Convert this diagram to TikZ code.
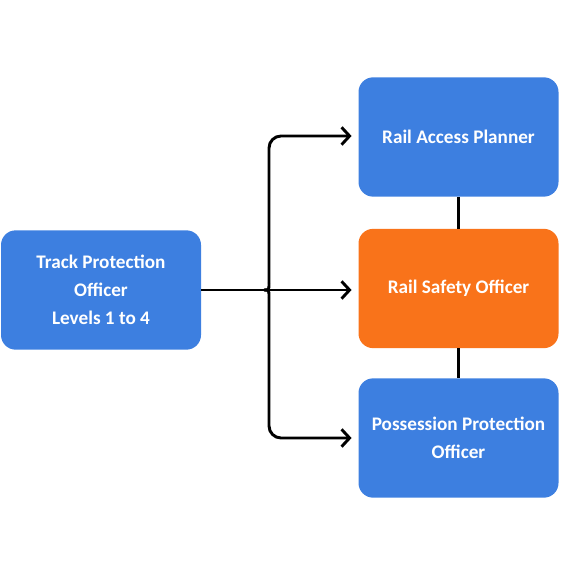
\documentclass[tikz,border=0pt]{standalone}
\usepackage{fontspec}
\setmainfont{Carlito}
\usetikzlibrary{arrows.meta}
\definecolor{boxblue}{RGB}{61,127,224}
\definecolor{boxorange}{RGB}{249,115,26}
\begin{document}
\begin{tikzpicture}[x=0.75pt,y=-0.75pt,
  rolebox/.style={rectangle,rounded corners=11pt,minimum width=150pt,minimum height=89.5pt,
    text=white,font=\bfseries\fontsize{14.4}{21}\selectfont,align=center,inner sep=0pt},
  conn/.style={line width=2.2pt,black},
  arr/.style={conn,-{Straight Barb[length=6pt,width=13pt,line width=2.2pt]}}]
\useasboundingbox (0,0) rectangle (560,580);
\node[rolebox,fill=boxblue] (tpo) at (101,290) {Track Protection\\Officer\\Levels 1 to 4};
\node[rolebox,fill=boxblue] (rap) at (458.5,137) {Rail Access Planner};
\node[rolebox,fill=boxorange] (rso) at (458.5,288.5) {Rail Safety Officer};
\node[rolebox,fill=boxblue] (ppo) at (458.5,438) {Possession Protection\\Officer};
\draw[conn] (rap.south) -- (rso.north);
\draw[conn] (rso.south) -- (ppo.north);
\coordinate (tip) at (264,290);
\coordinate (upper) at (269,283);
\coordinate (lower) at (269,297);
\draw[arr] (tpo.east |- 0,290) -- ([xshift=-5]rso.west |- 0,290);
\draw[conn] (tip) .. controls (269,290) .. (upper);
\draw[conn] (tip) .. controls (269,290) .. (lower);
\draw[arr,rounded corners=9pt] (upper) |- ([xshift=-5]rap.west |- 0,136);
\draw[arr,rounded corners=9pt] (lower) |- ([xshift=-5]ppo.west |- 0,438);
\end{tikzpicture}
\end{document}
